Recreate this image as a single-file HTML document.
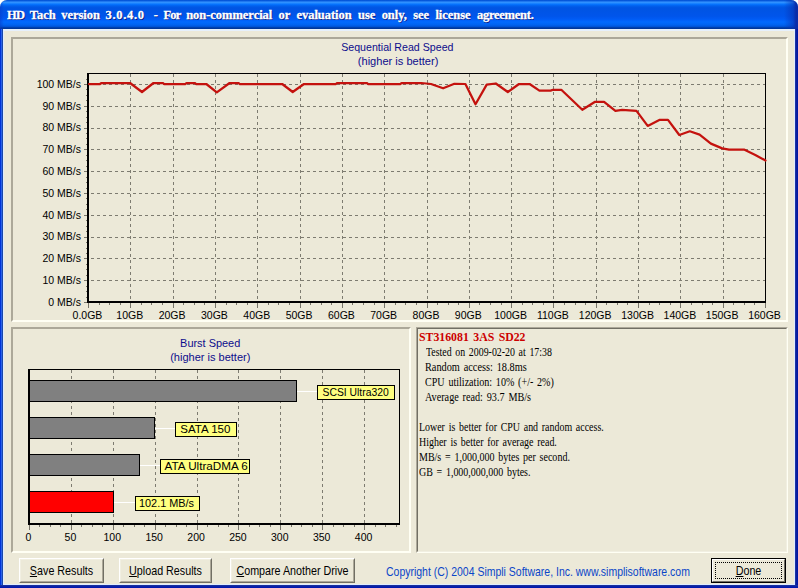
<!DOCTYPE html>
<html lang="en">
<head>
<meta charset="utf-8">
<title>HD Tach version 3.0.4.0</title>
<style>
html,body{margin:0;padding:0;background:#fff;}
body{width:798px;height:588px;overflow:hidden;position:relative;font-family:"Liberation Sans",Arial,sans-serif;}
.win{position:absolute;left:0;top:0;width:798px;height:588px;box-sizing:border-box;background:#ece9d8;border-radius:7px 7px 0 0;overflow:hidden;}
.tbar{position:absolute;left:0;top:0;width:798px;height:29px;background:linear-gradient(to bottom,#0050d4 0%,#0a5ee0 3.4%,#3593ff 7%,#288eff 10%,#127dff 13%,#036ffc 16%,#0262ee 20%,#0057e5 25%,#0054e3 30%,#0055eb 56%,#005bf5 66%,#026afe 76%,#0062ef 86%,#0052d6 92%,#0040ab 95%,#003092 100%);}
.tbar:before{content:"";position:absolute;left:0;top:0;width:4px;height:29px;background:linear-gradient(90deg,rgba(10,60,200,0.55),rgba(10,60,192,0));}
.tbar:after{content:"";position:absolute;right:0;top:0;width:14px;height:29px;background:linear-gradient(270deg,#0a2ca8 0,#0a2ca8 2px,rgba(8,49,176,0.6) 5px,rgba(8,49,176,0) 14px);}
.title{position:absolute;left:7px;top:6px;transform-origin:0 0;transform:scaleX(0.962);height:18px;line-height:18px;white-space:nowrap;color:#fff;font-family:"Liberation Serif","Times New Roman",serif;font-weight:bold;font-size:13px;letter-spacing:-0.04px;word-spacing:2.7px;text-shadow:1px 1px 0 #0a1a80;-webkit-text-stroke:0.3px #fff;}
.bl{position:absolute;left:0;top:29px;width:3px;height:559px;background:linear-gradient(90deg,#0034d8 0,#0034d8 1px,#2a62e8 1px,#2a62e8 2px,#1a48a8 2px,#1a48a8 3px);}
.br{position:absolute;right:0;top:29px;width:3px;height:559px;background:linear-gradient(90deg,#1c34a2 0,#1c34a2 1px,#0a1fa0 1px,#0a1fa0 2px,#0018a4 2px,#0018a4 3px);}
.bb{position:absolute;left:0;bottom:0;width:798px;height:3px;background:linear-gradient(180deg,#17309e 0,#17309e 1px,#0a20a8 1px,#0a20a8 2px,#0018ae 2px,#0018ae 3px);}
.hl{position:absolute;left:3px;top:29px;width:792px;height:556px;box-sizing:border-box;border:1px solid #dfecff;border-top:2px solid #e6f0fc;}
.panel{position:absolute;box-sizing:border-box;border-style:solid;border-width:2px;border-color:#aca899 #fffff4 #fffff4 #aca899;}
.p1{left:11px;top:37px;width:777px;height:285px;}
.p2{left:11px;top:327px;width:400px;height:226px;}
.p3{left:416px;top:327px;width:372px;height:226px;border-width:1px;border-color:#aca899 #fffff4 #fffff4 #aca899;}
.p3i{position:absolute;left:0;top:0;right:0;bottom:0;border-style:solid;border-width:1px;border-color:#716f64 #f1efe2 #f1efe2 #716f64;}
.gfx{position:absolute;left:0;top:0;}
.info{position:absolute;left:418.6px;top:330px;font-family:"Liberation Serif","Times New Roman",serif;font-size:12px;line-height:15px;color:#000;white-space:nowrap;word-spacing:1.5px;}
.info .ln{transform-origin:0 0;height:15px;}
.info .hd{color:#cc0000;font-weight:bold;}
.btn{position:absolute;top:558px;height:25px;box-sizing:border-box;border-style:solid;border-width:1px;border-color:#fff #716f64 #716f64 #fff;background:#ece9d8;}
.btn i{position:absolute;left:0;top:0;right:0;bottom:0;border-style:solid;border-width:1px;border-color:#f1efe2 #aca899 #aca899 #f1efe2;}
.btn span{position:absolute;left:-30px;right:-30px;top:3.5px;text-align:center;font-size:13.5px;line-height:15px;color:#000;transform:scaleX(0.795);white-space:nowrap;font-style:normal;}
.btn u{text-decoration:underline;}
.b1{left:19px;width:85px;}
.b2{left:119px;width:93px;}
.b3{left:230px;width:125px;}
.b4{left:711px;width:75px;border-color:#000;}
.b4 i{border-color:#fff #716f64 #716f64 #fff;}
.b4 b{position:absolute;left:3px;top:3px;right:3px;bottom:3px;border:1px dotted #000;}
.copy{position:absolute;left:386.3px;top:563.6px;font-size:13.5px;line-height:15px;color:#0a46c8;white-space:nowrap;transform-origin:0 0;transform:scaleX(0.776);}
</style>
</head>
<body>
<div class="win">
 <div class="tbar"><div class="title"><span style="letter-spacing:-0.75px">HD</span> Tach version <span style="letter-spacing:0.7px">3.0.4.0</span><span style="letter-spacing:-1.3px">&nbsp; </span>- <span style="letter-spacing:-0.85px">For</span> <span style="word-spacing:3.4px">non-commercial or evaluation use only, see license <span style="letter-spacing:-0.26px">agreement.</span></span></div></div>
 <div class="bl"></div><div class="br"></div><div class="bb"></div><div class="hl"></div>
 <div class="panel p1"></div>
 <div class="panel p2"></div>
 <div class="panel p3"><div class="p3i"></div></div>
 <svg class="gfx" width="798" height="588" viewBox="0 0 798 588">
<g stroke="#7d7b70" stroke-width="1" stroke-dasharray="3 3" fill="none" shape-rendering="crispEdges">
<line x1="130.5" y1="74" x2="130.5" y2="301"/>
<line x1="173.5" y1="74" x2="173.5" y2="301"/>
<line x1="215.5" y1="74" x2="215.5" y2="301"/>
<line x1="257.5" y1="74" x2="257.5" y2="301"/>
<line x1="300.5" y1="74" x2="300.5" y2="301"/>
<line x1="342.5" y1="74" x2="342.5" y2="301"/>
<line x1="384.5" y1="74" x2="384.5" y2="301"/>
<line x1="427.5" y1="74" x2="427.5" y2="301"/>
<line x1="469.5" y1="74" x2="469.5" y2="301"/>
<line x1="511.5" y1="74" x2="511.5" y2="301"/>
<line x1="553.5" y1="74" x2="553.5" y2="301"/>
<line x1="596.5" y1="74" x2="596.5" y2="301"/>
<line x1="638.5" y1="74" x2="638.5" y2="301"/>
<line x1="680.5" y1="74" x2="680.5" y2="301"/>
<line x1="723.5" y1="74" x2="723.5" y2="301"/>
<line x1="91" y1="280.5" x2="765" y2="280.5"/>
<line x1="91" y1="258.5" x2="765" y2="258.5"/>
<line x1="91" y1="237.5" x2="765" y2="237.5"/>
<line x1="91" y1="215.5" x2="765" y2="215.5"/>
<line x1="91" y1="193.5" x2="765" y2="193.5"/>
<line x1="91" y1="171.5" x2="765" y2="171.5"/>
<line x1="91" y1="149.5" x2="765" y2="149.5"/>
<line x1="91" y1="128.5" x2="765" y2="128.5"/>
<line x1="91" y1="106.5" x2="765" y2="106.5"/>
<line x1="91" y1="84.5" x2="765" y2="84.5"/>
</g>
<g stroke="#77756a" stroke-width="1" shape-rendering="crispEdges">
<line x1="88.5" y1="303" x2="88.5" y2="308"/>
<line x1="99.5" y1="303" x2="99.5" y2="305"/>
<line x1="109.5" y1="303" x2="109.5" y2="305"/>
<line x1="120.5" y1="303" x2="120.5" y2="305"/>
<line x1="130.5" y1="303" x2="130.5" y2="308"/>
<line x1="141.5" y1="303" x2="141.5" y2="305"/>
<line x1="151.5" y1="303" x2="151.5" y2="305"/>
<line x1="162.5" y1="303" x2="162.5" y2="305"/>
<line x1="173.5" y1="303" x2="173.5" y2="308"/>
<line x1="183.5" y1="303" x2="183.5" y2="305"/>
<line x1="194.5" y1="303" x2="194.5" y2="305"/>
<line x1="204.5" y1="303" x2="204.5" y2="305"/>
<line x1="215.5" y1="303" x2="215.5" y2="308"/>
<line x1="226.5" y1="303" x2="226.5" y2="305"/>
<line x1="236.5" y1="303" x2="236.5" y2="305"/>
<line x1="247.5" y1="303" x2="247.5" y2="305"/>
<line x1="257.5" y1="303" x2="257.5" y2="308"/>
<line x1="268.5" y1="303" x2="268.5" y2="305"/>
<line x1="278.5" y1="303" x2="278.5" y2="305"/>
<line x1="289.5" y1="303" x2="289.5" y2="305"/>
<line x1="300.5" y1="303" x2="300.5" y2="308"/>
<line x1="310.5" y1="303" x2="310.5" y2="305"/>
<line x1="321.5" y1="303" x2="321.5" y2="305"/>
<line x1="331.5" y1="303" x2="331.5" y2="305"/>
<line x1="342.5" y1="303" x2="342.5" y2="308"/>
<line x1="352.5" y1="303" x2="352.5" y2="305"/>
<line x1="363.5" y1="303" x2="363.5" y2="305"/>
<line x1="374.5" y1="303" x2="374.5" y2="305"/>
<line x1="384.5" y1="303" x2="384.5" y2="308"/>
<line x1="395.5" y1="303" x2="395.5" y2="305"/>
<line x1="405.5" y1="303" x2="405.5" y2="305"/>
<line x1="416.5" y1="303" x2="416.5" y2="305"/>
<line x1="427.5" y1="303" x2="427.5" y2="308"/>
<line x1="437.5" y1="303" x2="437.5" y2="305"/>
<line x1="448.5" y1="303" x2="448.5" y2="305"/>
<line x1="458.5" y1="303" x2="458.5" y2="305"/>
<line x1="469.5" y1="303" x2="469.5" y2="308"/>
<line x1="479.5" y1="303" x2="479.5" y2="305"/>
<line x1="490.5" y1="303" x2="490.5" y2="305"/>
<line x1="501.5" y1="303" x2="501.5" y2="305"/>
<line x1="511.5" y1="303" x2="511.5" y2="308"/>
<line x1="522.5" y1="303" x2="522.5" y2="305"/>
<line x1="532.5" y1="303" x2="532.5" y2="305"/>
<line x1="543.5" y1="303" x2="543.5" y2="305"/>
<line x1="553.5" y1="303" x2="553.5" y2="308"/>
<line x1="564.5" y1="303" x2="564.5" y2="305"/>
<line x1="575.5" y1="303" x2="575.5" y2="305"/>
<line x1="585.5" y1="303" x2="585.5" y2="305"/>
<line x1="596.5" y1="303" x2="596.5" y2="308"/>
<line x1="606.5" y1="303" x2="606.5" y2="305"/>
<line x1="617.5" y1="303" x2="617.5" y2="305"/>
<line x1="627.5" y1="303" x2="627.5" y2="305"/>
<line x1="638.5" y1="303" x2="638.5" y2="308"/>
<line x1="649.5" y1="303" x2="649.5" y2="305"/>
<line x1="659.5" y1="303" x2="659.5" y2="305"/>
<line x1="670.5" y1="303" x2="670.5" y2="305"/>
<line x1="680.5" y1="303" x2="680.5" y2="308"/>
<line x1="691.5" y1="303" x2="691.5" y2="305"/>
<line x1="702.5" y1="303" x2="702.5" y2="305"/>
<line x1="712.5" y1="303" x2="712.5" y2="305"/>
<line x1="723.5" y1="303" x2="723.5" y2="308"/>
<line x1="733.5" y1="303" x2="733.5" y2="305"/>
<line x1="744.5" y1="303" x2="744.5" y2="305"/>
<line x1="754.5" y1="303" x2="754.5" y2="305"/>
<line x1="765.5" y1="303" x2="765.5" y2="308"/>
<line x1="84" y1="302.5" x2="87" y2="302.5"/>
<line x1="86" y1="297.5" x2="87" y2="297.5"/>
<line x1="86" y1="291.5" x2="87" y2="291.5"/>
<line x1="86" y1="286.5" x2="87" y2="286.5"/>
<line x1="84" y1="280.5" x2="87" y2="280.5"/>
<line x1="86" y1="275.5" x2="87" y2="275.5"/>
<line x1="86" y1="269.5" x2="87" y2="269.5"/>
<line x1="86" y1="264.5" x2="87" y2="264.5"/>
<line x1="84" y1="258.5" x2="87" y2="258.5"/>
<line x1="86" y1="253.5" x2="87" y2="253.5"/>
<line x1="86" y1="248.5" x2="87" y2="248.5"/>
<line x1="86" y1="242.5" x2="87" y2="242.5"/>
<line x1="84" y1="237.5" x2="87" y2="237.5"/>
<line x1="86" y1="231.5" x2="87" y2="231.5"/>
<line x1="86" y1="226.5" x2="87" y2="226.5"/>
<line x1="86" y1="220.5" x2="87" y2="220.5"/>
<line x1="84" y1="215.5" x2="87" y2="215.5"/>
<line x1="86" y1="209.5" x2="87" y2="209.5"/>
<line x1="86" y1="204.5" x2="87" y2="204.5"/>
<line x1="86" y1="198.5" x2="87" y2="198.5"/>
<line x1="84" y1="193.5" x2="87" y2="193.5"/>
<line x1="86" y1="188.5" x2="87" y2="188.5"/>
<line x1="86" y1="182.5" x2="87" y2="182.5"/>
<line x1="86" y1="177.5" x2="87" y2="177.5"/>
<line x1="84" y1="171.5" x2="87" y2="171.5"/>
<line x1="86" y1="166.5" x2="87" y2="166.5"/>
<line x1="86" y1="160.5" x2="87" y2="160.5"/>
<line x1="86" y1="155.5" x2="87" y2="155.5"/>
<line x1="84" y1="149.5" x2="87" y2="149.5"/>
<line x1="86" y1="144.5" x2="87" y2="144.5"/>
<line x1="86" y1="138.5" x2="87" y2="138.5"/>
<line x1="86" y1="133.5" x2="87" y2="133.5"/>
<line x1="84" y1="128.5" x2="87" y2="128.5"/>
<line x1="86" y1="122.5" x2="87" y2="122.5"/>
<line x1="86" y1="117.5" x2="87" y2="117.5"/>
<line x1="86" y1="111.5" x2="87" y2="111.5"/>
<line x1="84" y1="106.5" x2="87" y2="106.5"/>
<line x1="86" y1="100.5" x2="87" y2="100.5"/>
<line x1="86" y1="95.5" x2="87" y2="95.5"/>
<line x1="86" y1="89.5" x2="87" y2="89.5"/>
<line x1="84" y1="84.5" x2="87" y2="84.5"/>
<line x1="86" y1="79.5" x2="87" y2="79.5"/>
</g>
<g fill="#000" shape-rendering="crispEdges">
<rect x="87" y="73" width="2" height="230"/>
<rect x="87" y="301" width="679" height="2"/>
<rect x="87" y="73" width="679" height="1"/>
<rect x="765" y="73" width="1" height="230"/>
</g>
<polyline fill="none" stroke="#c4120e" stroke-width="2.25" stroke-linejoin="round" stroke-linecap="round" points="89.0,84.0 100.0,84.0 101.5,83.0 130.0,83.0 142.0,92.0 153.5,83.0 163.0,83.0 164.0,84.0 185.5,84.0 186.5,83.0 195.0,83.0 196.0,84.0 206.3,84.0 216.8,92.3 229.6,83.0 238.6,83.0 239.6,84.0 282.2,84.0 292.7,92.0 304.0,84.0 336.0,84.0 337.0,83.0 367.0,83.0 368.0,84.0 400.5,84.0 401.5,83.0 421.3,83.0 431.0,84.0 443.1,88.3 454.4,83.8 465.4,84.0 475.5,104.3 486.7,84.6 495.8,83.5 507.8,92.0 519.0,84.0 529.6,84.0 539.4,90.6 550.6,90.6 553.0,89.8 561.3,89.8 582.3,109.8 595.1,101.8 604.1,101.8 615.4,110.8 622.2,109.8 636.5,110.8 647.7,125.9 659.8,119.8 668.0,119.8 679.3,135.0 689.8,131.3 699.6,134.6 710.9,143.6 722.2,148.4 729.0,149.6 744.0,149.6 755.3,154.9 765.5,160.5"/>
<g font-family="'Liberation Sans',Arial,sans-serif" font-size="10.5" fill="#000">
<text x="81" y="305.7" text-anchor="end">0 MB/s</text>
<text x="81" y="283.9" text-anchor="end">10 MB/s</text>
<text x="81" y="262.1" text-anchor="end">20 MB/s</text>
<text x="81" y="240.3" text-anchor="end">30 MB/s</text>
<text x="81" y="218.5" text-anchor="end">40 MB/s</text>
<text x="81" y="196.7" text-anchor="end">50 MB/s</text>
<text x="81" y="174.9" text-anchor="end">60 MB/s</text>
<text x="81" y="153.1" text-anchor="end">70 MB/s</text>
<text x="81" y="131.3" text-anchor="end">80 MB/s</text>
<text x="81" y="109.5" text-anchor="end">90 MB/s</text>
<text x="81" y="87.7" text-anchor="end">100 MB/s</text>
<text x="87.5" y="318.5" text-anchor="middle">0.0GB</text>
<text x="129.8" y="318.5" text-anchor="middle">10GB</text>
<text x="172.1" y="318.5" text-anchor="middle">20GB</text>
<text x="214.4" y="318.5" text-anchor="middle">30GB</text>
<text x="256.8" y="318.5" text-anchor="middle">40GB</text>
<text x="299.1" y="318.5" text-anchor="middle">50GB</text>
<text x="341.4" y="318.5" text-anchor="middle">60GB</text>
<text x="383.7" y="318.5" text-anchor="middle">70GB</text>
<text x="426.0" y="318.5" text-anchor="middle">80GB</text>
<text x="468.3" y="318.5" text-anchor="middle">90GB</text>
<text x="510.6" y="318.5" text-anchor="middle">100GB</text>
<text x="552.9" y="318.5" text-anchor="middle">110GB</text>
<text x="595.2" y="318.5" text-anchor="middle">120GB</text>
<text x="637.6" y="318.5" text-anchor="middle">130GB</text>
<text x="679.9" y="318.5" text-anchor="middle">140GB</text>
<text x="722.2" y="318.5" text-anchor="middle">150GB</text>
<text x="764.5" y="318.5" text-anchor="middle">160GB</text>
</g>
<g font-family="'Liberation Sans',Arial,sans-serif" font-size="11" fill="#0c0c8c" lengthAdjust="spacingAndGlyphs">
<text x="341.2" y="51" textLength="112.3" lengthAdjust="spacingAndGlyphs">Sequential Read Speed</text>
<text x="357.8" y="65" textLength="80.6" lengthAdjust="spacingAndGlyphs">(higher is better)</text>
<text x="180.1" y="347" textLength="60.2" lengthAdjust="spacingAndGlyphs">Burst Speed</text>
<text x="170.2" y="361" textLength="80.2" lengthAdjust="spacingAndGlyphs">(higher is better)</text>
</g>
<g stroke="#7d7b70" stroke-width="1" stroke-dasharray="3 3" fill="none" shape-rendering="crispEdges">
<line x1="71.5" y1="370" x2="71.5" y2="523"/>
<line x1="113.5" y1="370" x2="113.5" y2="523"/>
<line x1="155.5" y1="370" x2="155.5" y2="523"/>
<line x1="197.5" y1="370" x2="197.5" y2="523"/>
<line x1="238.5" y1="370" x2="238.5" y2="523"/>
<line x1="280.5" y1="370" x2="280.5" y2="523"/>
<line x1="322.5" y1="370" x2="322.5" y2="523"/>
<line x1="364.5" y1="370" x2="364.5" y2="523"/>
</g>
<g stroke="#77756a" stroke-width="1" shape-rendering="crispEdges">
<line x1="29.5" y1="525" x2="29.5" y2="530"/>
<line x1="39.5" y1="525" x2="39.5" y2="527"/>
<line x1="50.5" y1="525" x2="50.5" y2="527"/>
<line x1="60.5" y1="525" x2="60.5" y2="527"/>
<line x1="71.5" y1="525" x2="71.5" y2="530"/>
<line x1="81.5" y1="525" x2="81.5" y2="527"/>
<line x1="92.5" y1="525" x2="92.5" y2="527"/>
<line x1="102.5" y1="525" x2="102.5" y2="527"/>
<line x1="113.5" y1="525" x2="113.5" y2="530"/>
<line x1="123.5" y1="525" x2="123.5" y2="527"/>
<line x1="134.5" y1="525" x2="134.5" y2="527"/>
<line x1="144.5" y1="525" x2="144.5" y2="527"/>
<line x1="155.5" y1="525" x2="155.5" y2="530"/>
<line x1="165.5" y1="525" x2="165.5" y2="527"/>
<line x1="176.5" y1="525" x2="176.5" y2="527"/>
<line x1="186.5" y1="525" x2="186.5" y2="527"/>
<line x1="197.5" y1="525" x2="197.5" y2="530"/>
<line x1="207.5" y1="525" x2="207.5" y2="527"/>
<line x1="218.5" y1="525" x2="218.5" y2="527"/>
<line x1="228.5" y1="525" x2="228.5" y2="527"/>
<line x1="238.5" y1="525" x2="238.5" y2="530"/>
<line x1="249.5" y1="525" x2="249.5" y2="527"/>
<line x1="259.5" y1="525" x2="259.5" y2="527"/>
<line x1="270.5" y1="525" x2="270.5" y2="527"/>
<line x1="280.5" y1="525" x2="280.5" y2="530"/>
<line x1="291.5" y1="525" x2="291.5" y2="527"/>
<line x1="301.5" y1="525" x2="301.5" y2="527"/>
<line x1="312.5" y1="525" x2="312.5" y2="527"/>
<line x1="322.5" y1="525" x2="322.5" y2="530"/>
<line x1="333.5" y1="525" x2="333.5" y2="527"/>
<line x1="343.5" y1="525" x2="343.5" y2="527"/>
<line x1="354.5" y1="525" x2="354.5" y2="527"/>
<line x1="364.5" y1="525" x2="364.5" y2="530"/>
<line x1="375.5" y1="525" x2="375.5" y2="527"/>
<line x1="385.5" y1="525" x2="385.5" y2="527"/>
<line x1="396.5" y1="525" x2="396.5" y2="527"/>
</g>
<g fill="#000" shape-rendering="crispEdges">
<rect x="28" y="369" width="2" height="156"/>
<rect x="28" y="523" width="372" height="2"/>
<rect x="28" y="369" width="372" height="1"/>
<rect x="399" y="369" width="1" height="156"/>
</g>
<rect x="29.5" y="380.5" width="267" height="21" fill="#808080" stroke="#000" stroke-width="1" shape-rendering="crispEdges"/>
<line x1="297" y1="391.5" x2="317" y2="391.5" stroke="#fff" stroke-width="1" shape-rendering="crispEdges"/>
<rect x="317.5" y="385.5" width="77" height="14" fill="#ffff80" stroke="#000" stroke-width="1" shape-rendering="crispEdges"/>
<text x="322.5" y="396" textLength="66.2" lengthAdjust="spacingAndGlyphs" font-family="'Liberation Sans',Arial,sans-serif" font-size="11" fill="#000">SCSI Ultra320</text>
<rect x="29.5" y="417.5" width="125" height="21" fill="#808080" stroke="#000" stroke-width="1" shape-rendering="crispEdges"/>
<line x1="155" y1="428.5" x2="175" y2="428.5" stroke="#fff" stroke-width="1" shape-rendering="crispEdges"/>
<rect x="175.5" y="422.5" width="61" height="14" fill="#ffff80" stroke="#000" stroke-width="1" shape-rendering="crispEdges"/>
<text x="180.2" y="433" textLength="50.2" lengthAdjust="spacingAndGlyphs" font-family="'Liberation Sans',Arial,sans-serif" font-size="11" fill="#000">SATA 150</text>
<rect x="29.5" y="454.5" width="110" height="21" fill="#808080" stroke="#000" stroke-width="1" shape-rendering="crispEdges"/>
<line x1="140" y1="465.5" x2="160" y2="465.5" stroke="#fff" stroke-width="1" shape-rendering="crispEdges"/>
<rect x="160.5" y="459.5" width="89" height="14" fill="#ffff80" stroke="#000" stroke-width="1" shape-rendering="crispEdges"/>
<text x="164.6" y="470" textLength="83.2" lengthAdjust="spacingAndGlyphs" font-family="'Liberation Sans',Arial,sans-serif" font-size="11" fill="#000">ATA UltraDMA 6</text>
<rect x="29.5" y="491.5" width="84" height="21" fill="#ff0000" stroke="#000" stroke-width="1" shape-rendering="crispEdges"/>
<line x1="114" y1="502.5" x2="135" y2="502.5" stroke="#fff" stroke-width="1" shape-rendering="crispEdges"/>
<rect x="135.5" y="496.5" width="64" height="14" fill="#ffff80" stroke="#000" stroke-width="1" shape-rendering="crispEdges"/>
<text x="139.0" y="507" textLength="55.0" lengthAdjust="spacingAndGlyphs" font-family="'Liberation Sans',Arial,sans-serif" font-size="11" fill="#000">102.1 MB/s</text>
<g font-family="'Liberation Sans',Arial,sans-serif" font-size="10.5" fill="#000" text-anchor="middle">
<text x="28.5" y="541">0</text>
<text x="70.4" y="541">50</text>
<text x="112.3" y="541">100</text>
<text x="154.2" y="541">150</text>
<text x="196.1" y="541">200</text>
<text x="237.9" y="541">250</text>
<text x="279.8" y="541">300</text>
<text x="321.7" y="541">350</text>
<text x="363.6" y="541">400</text>
</g>
</svg>
 <div class="info">
  <div class="ln hd" style="margin-left:0px;transform:scaleX(0.983)">ST316081 3AS SD22</div>
  <div class="ln" style="margin-left:7px;transform:scaleX(0.822)">Tested on 2009-02-20 at 17:38</div>
  <div class="ln" style="margin-left:6.3px;transform:scaleX(0.857)">Random access: 18.8ms</div>
  <div class="ln" style="margin-left:6.3px;transform:scaleX(0.84)">CPU utilization: 10% (+/- 2%)</div>
  <div class="ln" style="margin-left:6.3px;transform:scaleX(0.849)">Average read: 93.7 MB/s</div>
  <div class="ln">&nbsp;</div>
  <div class="ln" style="margin-left:0px;transform:scaleX(0.828)">Lower is better for CPU and random access.</div>
  <div class="ln" style="margin-left:0px;transform:scaleX(0.83)">Higher is better for average read.</div>
  <div class="ln" style="margin-left:0px;transform:scaleX(0.834)">MB/s = 1,000,000 bytes per second.</div>
  <div class="ln" style="margin-left:0px;transform:scaleX(0.83)">GB = 1,000,000,000 bytes.</div>
 </div>
 <div class="btn b1"><i></i><span><u>S</u>ave Results</span></div>
 <div class="btn b2"><i></i><span><u>U</u>pload Results</span></div>
 <div class="btn b3"><i></i><span><u>C</u>ompare Another Drive</span></div>
 <div class="copy">Copyright (C) 2004 Simpli Software, Inc. www.simplisoftware.com</div>
 <div class="btn b4"><i></i><b></b><span><u>D</u>one</span></div>
</div>
</body>
</html>
